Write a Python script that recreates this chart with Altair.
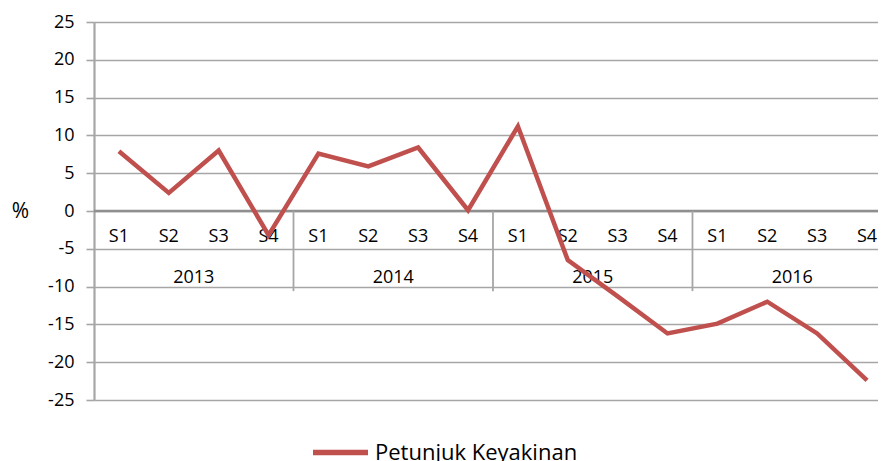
import altair as alt
import pandas as pd

years = ["2013", "2014", "2015", "2016"]
quarters = ["S1", "S2", "S3", "S4"]
values = [7.9, 2.4, 8.0, -3.2,
          7.6, 5.9, 8.4, 0.1,
          11.2, -6.5, -11.3, -16.2,
          -14.9, -12.0, -16.2, -22.4]
series_name = "Petunjuk Keyakinan"
y_ticks = [-25, -20, -15, -10, -5, 0, 5, 10, 15, 20, 25]

rows = []
for yi, yr in enumerate(years):
    for qi, q in enumerate(quarters):
        i = yi * 4 + qi
        rows.append({"idx": i, "year": yr, "q": q, "value": values[i], "series": series_name})
df = pd.DataFrame(rows)
year_df = pd.DataFrame({"year": years, "center": [yi * 4 + 1.5 for yi in range(len(years))]})
sep_df = pd.DataFrame({"pos": [yi * 4 + 3.5 for yi in range(len(years) - 1)]})
zero_df = pd.DataFrame({"v": [0]})

FONT = "Open Sans"
GRID = "#a6a6a6"
W, H = 784, 378

xscale = alt.Scale(domain=[-0.5, 15.22], nice=False, zero=False)
yscale = alt.Scale(domain=[-25, 25], nice=False)

yaxis = alt.Axis(values=y_ticks, tickCount=len(y_ticks), grid=True, gridColor=GRID,
                 gridWidth=1.6, tickColor=GRID, tickSize=8, tickWidth=1.6,
                 domainColor=GRID, domainWidth=2.2,
                 labelFont=FONT, labelFontSize=18, labelColor="#000000",
                 labelPadding=12, labelOverlap=False, labelExpr="'' + datum.value",
                 title="%", titleAngle=0, titleFont=FONT, titleFontSize=21,
                 titleFontWeight="normal", titleColor="#000000",
                 titleX=-74, titleY=H / 2, titleAlign="center",
                 titleBaseline="middle")

base = alt.Chart(df)

zero_rule = alt.Chart(zero_df).mark_rule(color="#8f8f8f", strokeWidth=2.4).encode(
    y=alt.Y("v:Q", scale=yscale, axis=yaxis, title="%")
)

line = base.mark_line(strokeWidth=4.5).encode(
    x=alt.X("idx:Q", scale=xscale, axis=None),
    y=alt.Y("value:Q", scale=yscale, axis=yaxis, title="%"),
    color=alt.Color("series:N", scale=alt.Scale(range=["#c0504d"]),
                    legend=alt.Legend(title=None, orient="none", legendX=216, legendY=400,
                                      symbolType="stroke", symbolSize=3025,
                                      symbolStrokeWidth=5.5, labelFont=FONT,
                                      labelFontSize=22, labelColor="#000000",
                                      labelOffset=4, labelLimit=500)),
)

seps = alt.Chart(sep_df).mark_rule(color=GRID, strokeWidth=1.8).encode(
    x=alt.X("pos:Q", scale=xscale, axis=None),
    y=alt.datum(0),
    y2=alt.datum(-10.6),
)

q_labels = base.mark_text(font=FONT, fontSize=18, color="#000000", baseline="middle").encode(
    x=alt.X("idx:Q", scale=xscale, axis=None),
    y=alt.datum(-3.5),
    text="q:N",
)

year_labels = alt.Chart(year_df).mark_text(font=FONT, fontSize=18, color="#000000",
                                           baseline="middle").encode(
    x=alt.X("center:Q", scale=xscale, axis=None),
    y=alt.datum(-8.9),
    text="year:N",
)

chart = alt.layer(zero_rule, seps, q_labels, year_labels, line).properties(
    width=W, height=H,
    padding={"left": 86, "top": 14, "right": 0, "bottom": 61},
    autosize="none",
).configure_view(stroke=None)

chart.save("out.html", embed_options={"renderer": "svg", "actions": False})
